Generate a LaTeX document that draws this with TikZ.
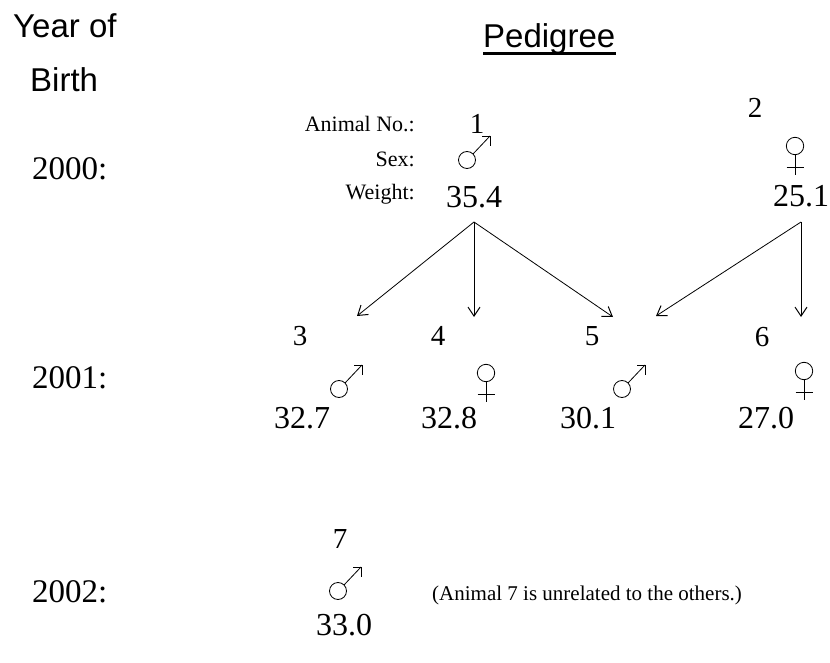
\documentclass[tikz,border=0pt]{standalone}
\usepackage{fontspec}
\setmainfont{Liberation Serif}
\newfontfamily\headfont{Liberation Sans}
\usetikzlibrary{arrows.meta}
\tikzset{
  head/.style={
    font=\headfont\fontsize{33}{36}\selectfont,
    inner sep=0pt
  },
  year/.style={
    font=\fontsize{33}{36}\selectfont,
    inner sep=0pt,
    anchor=base west
  },
  tag/.style={
    font=\fontsize{22}{24}\selectfont,
    inner sep=0pt,
    anchor=base east
  },
  num/.style={
    font=\fontsize{29}{32}\selectfont,
    inner sep=0pt,
    anchor=base
  },
  wt/.style={
    font=\fontsize{32}{35}\selectfont,
    inner sep=0pt,
    anchor=base
  },
  note/.style={
    font=\fontsize{21}{24}\selectfont,
    inner sep=0pt,
    anchor=base west
  },
  sym/.style={
    line width=0.8pt
  },
  arrow/.style={
    -{Straight Barb[length=9pt,width=12pt,line width=1pt]},
    line width=0.8pt
  },
  malesign/.pic={
    \draw[sym] (0,0) circle (8.5pt);
    \draw[sym] (6,-6) -- (23,-24);
    \draw[sym] (15,-24) -- (23,-24) -- (23,-14);
  },
  femalesign/.pic={
    \draw[sym] (0,0) circle (8.7pt);
    \draw[sym] (0,8.7) -- (0,29);
    \draw[sym] (-8.5,21) -- (8.5,21);
  }
}

\begin{document}
\begin{tikzpicture}[x=1pt,y=-1pt]
  \useasboundingbox (0,0) rectangle (830,663);

  \node[head, anchor=base west] (yearof) at (13,38) {Year of};
  \node[head, anchor=base west] (birth) at (30,92) {Birth};
  \node[head, anchor=base west] (pedigree) at (483,48) {Pedigree};
  \draw[line width=2.6pt] ([yshift=-5.5pt]pedigree.base west) -- ([yshift=-5.5pt]pedigree.base east);

  \node[year] (y2000) at (32,180) {2000:};
  \node[year] (y2001) at (32,388) {2001:};
  \node[year] (y2002) at (32,602) {2002:};

  \node[tag] (tagno) at (415,132) {Animal No.:};
  \node[tag] (tagsex) at (415,167) {Sex:};
  \node[tag] (tagwt) at (415,200) {Weight:};

  \node[num] (a1) at (477,134) {1};
  \pic at (467,160) {malesign};
  \node[wt] (a1wt) at (474,208) {35.4};

  \node[num] (a2) at (755,118) {2};
  \pic at (795,146) {femalesign};
  \node[wt] (a2wt) at (801,207) {25.1};

  \node[num] (a3) at (300,345) {3};
  \pic at (339,389) {malesign};
  \node[wt] (a3wt) at (302,428) {32.7};

  \node[num] (a4) at (438,345) {4};
  \pic at (486,373) {femalesign};
  \node[wt] (a4wt) at (449,428) {32.8};

  \node[num] (a5) at (592,345) {5};
  \pic at (622,389) {malesign};
  \node[wt] (a5wt) at (588,428) {30.1};

  \node[num] (a6) at (762,346) {6};
  \pic at (804,371) {femalesign};
  \node[wt] (a6wt) at (766,428) {27.0};

  \node[num] (a7) at (340,548) {7};
  \pic at (338,591) {malesign};
  \node[wt] (a7wt) at (344,635) {33.0};

  \node[note] (unrel) at (432,600) {(Animal 7 is unrelated to the others.)};

  \coordinate (s1) at ([yshift=-14pt]a1wt.base);
  \coordinate (s2) at ([yshift=-15pt]a2wt.base);
  \coordinate (t3) at (357,316);
  \coordinate (t4) at (474,317);
  \coordinate (t5a) at (613,317);
  \coordinate (t5b) at (656,316);
  \coordinate (t6) at (801,317);

  \draw[arrow] (s1) -- (t3);
  \draw[arrow] (s1) -- (t4);
  \draw[arrow] (s1) -- (t5a);
  \draw[arrow] (s2) -- (t5b);
  \draw[arrow] (s2) -- (t6);
\end{tikzpicture}
\end{document}
